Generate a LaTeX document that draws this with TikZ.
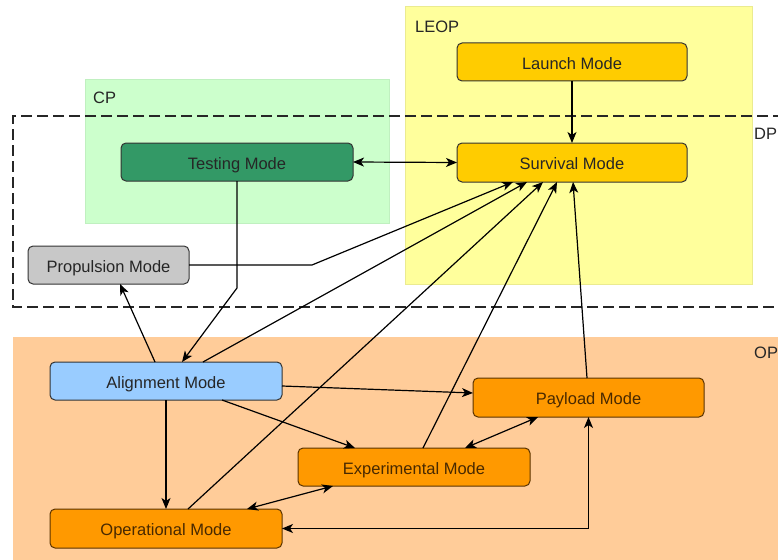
\documentclass[tikz,border=0pt]{standalone}
\usepackage{fontspec}
\setmainfont{Liberation Sans}
\usetikzlibrary{calc,arrows.meta}
\definecolor{opfill}{HTML}{FFCC99}
\definecolor{leopfill}{HTML}{FFFF9C}
\definecolor{cpfill}{HTML}{CCFFCC}
\definecolor{gold}{HTML}{FFCC00}
\definecolor{testg}{HTML}{339966}
\definecolor{propg}{HTML}{C8C8C8}
\definecolor{alignb}{HTML}{99CCFF}
\definecolor{orng}{HTML}{FF9900}
\definecolor{brownb}{HTML}{5A3300}
\definecolor{darkb}{HTML}{333333}
\begin{document}
\begin{tikzpicture}[x=1pt,y=-1pt,
  font=\fontsize{16.5}{19}\selectfont,
  mode/.style={rectangle,rounded corners=5pt,draw=darkb,line width=1pt,inner sep=0pt,outer sep=0pt,minimum width=232pt,minimum height=38pt,text height=14.8pt,text depth=0pt,text=black!85},
  omode/.style={mode,fill=orng,draw=brownb,text=brownb!80!black},
  region/.style={line width=0.6pt},
  rlabel/.style={anchor=west,inner sep=0pt,text=black!85},
  tip/.tip={Stealth[length=11pt,width=9pt,inset=3pt]},
  conn/.style={line width=1.2pt,-tip},
  dconn/.style={line width=1.2pt,tip-tip}
]
\useasboundingbox (0,0) rectangle (778,559);
% regions
\fill[opfill] (13,337) rectangle (800,580);
\filldraw[region,fill=leopfill,draw=leopfill!80!black!40!leopfill] (405,6) rectangle (752,284);
\filldraw[region,fill=cpfill,draw=cpfill!85!black!40!cpfill] (85,79) rectangle (389,223);
\draw[line width=2.6pt,draw=black!85,dash pattern=on 11pt off 5pt] (800,116) -- (13,116) -- (13,307) -- (800,307);
\node[rlabel] (lleop) at (415,26.5) {LEOP};
\node[rlabel] (lcp) at (93,98) {CP};
\node[rlabel] (ldp) at (754,134) {DP};
\node[rlabel] (lop) at (754,353) {OP};
% nodes
\node[mode,fill=gold,minimum width=230pt] (launch) at (572,62) {Launch Mode};
\node[mode,fill=gold,minimum width=230pt,minimum height=39pt] (surv) at (572,162.5) {Survival Mode};
\node[mode,fill=testg] (test) at (237,162) {Testing Mode};
\node[mode,fill=propg,minimum width=161pt] (prop) at (108.5,265) {Propulsion Mode};
\node[mode,fill=alignb] (align) at (166,381) {Alignment Mode};
\node[omode,minimum height=39pt] (oper) at (166,528.5) {Operational Mode};
\node[omode] (exp) at (414,467) {Experimental Mode};
\node[omode,minimum width=231pt,minimum height=39pt] (pay) at (588.5,397.5) {Payload Mode};
% connectors
\draw[conn] (launch) -- (surv);
\draw[dconn] (test.east) -- (surv.west);
\draw[conn] (test.south) -- ++(0,107) -- ($(align.north west)+(132,0)$);
\draw[conn] (prop.east) -- ++(123,0) -- ($(surv.south west)+(56,0)$);
\draw[conn] ($(align.north west)+(105,0)$) -- ($(prop.south west)+(92,0)$);
\draw[conn] ($(align.north west)+(153,0)$) -- ($(surv.south west)+(70,0)$);
\draw[conn] ($(oper.north west)+(138,0)$) -- ($(surv.south west)+(86,0)$);
\draw[conn] ($(exp.north west)+(125,0)$) -- ($(surv.south west)+(100,0)$);
\draw[conn] ($(pay.north west)+(114,0)$) -- ($(surv.south west)+(116,0)$);
\draw[conn] ($(align.east)+(0,5)$) -- ($(pay.west)+(0,-4.5)$);
\draw[conn] ($(align.south west)+(172,0)$) -- ($(exp.north west)+(57,0)$);
\draw[conn] (align.south) -- (oper.north);
\draw[dconn] ($(oper.north west)+(197,0)$) -- ($(exp.south west)+(35,0)$);
\draw[dconn] ($(exp.north west)+(167,0)$) -- ($(pay.south west)+(65,0)$);
\draw[dconn] (oper.east) -| (pay.south);
\end{tikzpicture}
\end{document}
